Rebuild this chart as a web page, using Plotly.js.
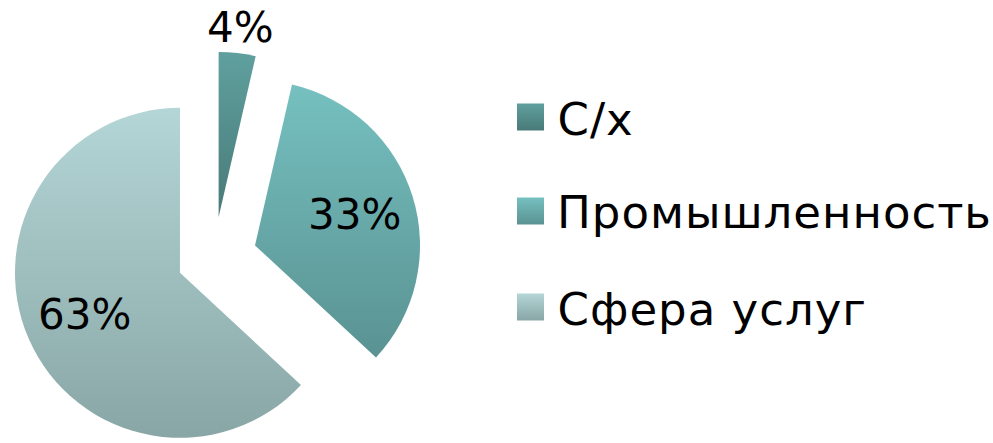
<!DOCTYPE html>
<html>
<head>
<meta charset="utf-8">
<script src="https://cdn.plot.ly/plotly-3.0.1.min.js"></script>
<style>
html,body{margin:0;padding:0;width:993px;height:443px;overflow:hidden;background:#fff;}
#chart{position:absolute;left:-40px;top:0;width:1040px;height:500px;}
#chart .annotation.legtext .annotation-text{letter-spacing:1px;}
</style>
</head>
<body>
<div id="chart"></div>
<script>
// ---- data ----
const categories = ['С/х', 'Промышленность', 'Сфера услуг'];
const shares = [3.6, 33.3, 63.1];          // shown rounded: 4%, 33%, 63%
const sliceColors = ['#568e8d', '#69a9a9', '#a1bebe'];
const gradTop = ['#5fa09e', '#76c0c0', '#b4d6d6'];
const gradBottom = ['#487a78', '#5a9292', '#89a6a6'];
const pulls = [0.25, 0.26, 0.225];

// ---- geometry (page pixels) ----
const OX = 40;          // div offset to the left
const W = 1040, H = 500;
const cx = 214 + OX, cy = 258, R = 165;
const mp = Math.max(...pulls);
const half = R * (1 + mp);
const px = x => (x + OX) / W;
const py = y => 1 - y / H;
const total = shares.reduce((a, b) => a + b, 0);

const trace = {
  type: 'pie',
  labels: categories,
  values: shares,
  sort: false,
  direction: 'clockwise',
  rotation: 0,
  pull: pulls,
  marker: {colors: sliceColors, line: {width: 0}},
  textinfo: 'none',
  domain: {
    x: [(cx - half) / W, (cx + half) / W],
    y: [1 - (cy + half) / H, 1 - (cy - half) / H]
  },
  hoverinfo: 'none',
  showlegend: false
};

const shapes = [], annotations = [];

// data labels: placed along each slice's bisector (outside for the thin slice)
let acc = 0;
shares.forEach((v, i) => {
  const mid = (acc + v / 2) / total * 2 * Math.PI;
  acc += v;
  const dx = Math.sin(mid), dy = -Math.cos(mid);
  const vx = 214 + pulls[i] * R * dx, vy = cy + pulls[i] * R * dy;
  const dist = (v / total < 0.1) ? R + 26 : R * 0.63;
  annotations.push({
    xref: 'paper', yref: 'paper',
    x: px(vx + dist * dx), y: py(vy + dist * dy),
    xanchor: 'center', yanchor: 'middle', showarrow: false,
    text: Math.round(v / total * 100) + '%',
    font: {family: 'DejaVu Sans', size: 42, color: '#000'}
  });
});

// legend drawn with shapes + annotations from categories/colors
const rowY = [117, 211, 307];
categories.forEach((c, i) => {
  shapes.push({
    type: 'rect', xref: 'paper', yref: 'paper',
    x0: px(517), x1: px(544), y0: py(rowY[i] - 13.5), y1: py(rowY[i] + 13.5),
    fillcolor: sliceColors[i], line: {width: 0}
  });
  annotations.push({
    xref: 'paper', yref: 'paper', x: px(555 + c.length * 0.5), y: py(rowY[i] + 2),
    xanchor: 'left', yanchor: 'middle', showarrow: false,
    text: c, font: {family: 'DejaVu Sans', size: 45, color: '#000'},
    name: 'leg'
  });
});

const layout = {
  width: W, height: H,
  margin: {l: 0, r: 0, t: 0, b: 0},
  paper_bgcolor: '#fff',
  showlegend: false,
  shapes: shapes,
  annotations: annotations
};

Plotly.newPlot('chart', [trace], layout, {staticPlot: true, displayModeBar: false}).then(gd => {
  // tag legend annotations for letter-spacing
  gd.querySelectorAll('g.annotation').forEach((g, i) => {
    if (i >= shares.length) g.classList.add('legtext');
  });
  // vertical gradient fills like the original
  const svg = gd.querySelector('svg.main-svg');
  const NS = 'http://www.w3.org/2000/svg';
  let defs = svg.querySelector('defs');
  if (!defs) { defs = document.createElementNS(NS, 'defs'); svg.insertBefore(defs, svg.firstChild); }
  categories.forEach((c, i) => {
    const g = document.createElementNS(NS, 'linearGradient');
    g.setAttribute('id', 'sliceGrad' + i);
    g.setAttribute('x1', '0'); g.setAttribute('y1', '0');
    g.setAttribute('x2', '0'); g.setAttribute('y2', '1');
    [[0, gradTop[i]], [1, gradBottom[i]]].forEach(([o, col]) => {
      const s = document.createElementNS(NS, 'stop');
      s.setAttribute('offset', o);
      s.setAttribute('stop-color', col);
      g.appendChild(s);
    });
    defs.appendChild(g);
  });
  gd.querySelectorAll('g.slice path.surface').forEach((p, i) => {
    p.style.fill = 'url(#sliceGrad' + i + ')';
  });
  gd.querySelectorAll('.shapelayer path').forEach((p, i) => {
    if (i < categories.length) p.style.fill = 'url(#sliceGrad' + i + ')';
  });
});
</script>
</body>
</html>
